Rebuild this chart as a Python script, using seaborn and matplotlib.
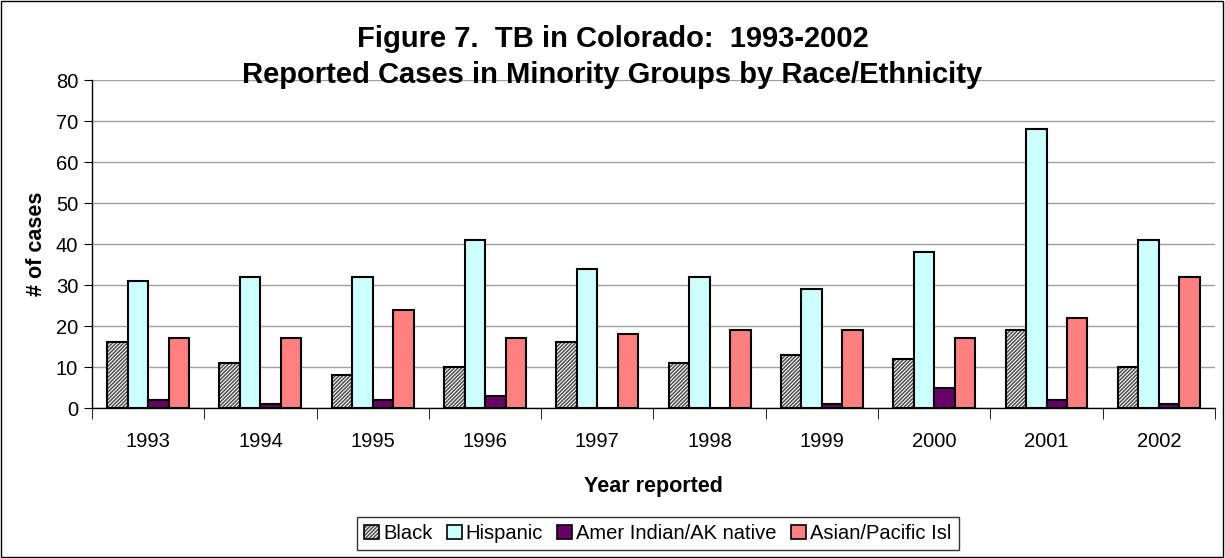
import pandas as pd
import matplotlib.pyplot as plt
import seaborn as sns
from matplotlib.patches import Rectangle

years = ['1993', '1994', '1995', '1996', '1997', '1998', '1999', '2000', '2001', '2002']
groups = ['Black', 'Hispanic', 'Amer Indian/AK native', 'Asian/Pacific Isl']
black = [16, 11, 8, 10, 16, 11, 13, 12, 19, 10]
hispanic = [31, 32, 32, 41, 34, 32, 29, 38, 68, 41]
amer_indian = [2, 1, 2, 3, 0, 0, 1, 5, 2, 1]
asian = [17, 17, 24, 17, 18, 19, 19, 17, 22, 32]
colors = ['#ffffff', '#ccffff', '#660066', '#ff8080']

# long-format table for seaborn
rows = []
for name, vals in zip(groups, [black, hispanic, amer_indian, asian]):
    for y, v in zip(years, vals):
        rows.append({'Year': y, 'Group': name, 'Cases': v})
df = pd.DataFrame(rows)

sns.set_style('white')
plt.rcParams['font.family'] = ['Liberation Sans', 'DejaVu Sans']
plt.rcParams['text.color'] = 'black'
plt.rcParams['axes.labelcolor'] = 'black'
plt.rcParams['xtick.color'] = 'black'
plt.rcParams['ytick.color'] = 'black'
plt.rcParams['hatch.linewidth'] = 1.1

fig = plt.figure(figsize=(12.25, 5.58), dpi=100)
ax = fig.add_axes([0.0751, 0.2688, 0.9167, 0.5878])

sns.barplot(data=df, x='Year', y='Cases', hue='Group', hue_order=groups,
            palette=colors, width=0.73, gap=0, edgecolor='black',
            linewidth=1.5, saturation=1, legend=False, ax=ax, zorder=3)

# dense grey hatch for the Black series
HATCH = '/////////'
HATCH_COLOR = (0.3, 0.3, 0.3, 1)
for bar in ax.containers[0]:
    bar.set_hatch(HATCH)
    bar._hatch_color = HATCH_COLOR

ax.set_ylim(0, 80)
ax.set_yticks(range(0, 81, 10))
ax.set_xlim(-0.5, len(years) - 0.5)
ax.yaxis.grid(True, color='#a0a0a0', linewidth=1, zorder=0)
ax.set_axisbelow(True)
for side in ['top', 'right']:
    ax.spines[side].set_visible(False)
for side in ['left', 'bottom']:
    ax.spines[side].set_color('black')
    ax.spines[side].set_linewidth(1)

ax.tick_params(axis='y', which='major', left=True, length=6, color='black',
               labelsize=14.5, pad=4)
ax.tick_params(axis='x', which='major', bottom=False, labelsize=14.5, pad=14)
ax.set_xticks([i + 0.5 for i in range(-1, len(years))], minor=True)
ax.tick_params(axis='x', which='minor', bottom=True, length=8, color='black')

ax.set_xlabel('Year reported', fontsize=15.5, fontweight='bold', labelpad=18)
ax.set_ylabel('# of cases', fontsize=15.5, fontweight='bold', labelpad=6)

fig.suptitle('Figure 7.  TB in Colorado:  1993-2002\nReported Cases in Minority Groups by Race/Ethnicity',
             fontsize=21, fontweight='bold', y=0.955, linespacing=1.38)

handles = [Rectangle((0, 0), 1, 1, facecolor=c, edgecolor='black', linewidth=1.2)
           for c in colors]
handles[0].set_hatch(HATCH)
handles[0]._hatch_color = HATCH_COLOR
leg = fig.legend(handles, groups, loc='center', bbox_to_anchor=(0.537, 0.044),
                 ncol=4, fontsize=14.5, frameon=True, fancybox=False,
                 handlelength=0.75, handleheight=0.75, handletextpad=0.2,
                 columnspacing=0.7, borderpad=0.35)
leg.get_frame().set_edgecolor('black')
leg.get_frame().set_linewidth(1)

fig.add_artist(Rectangle((0.001, 0.002), 0.997, 0.996, transform=fig.transFigure,
                         fill=False, edgecolor='black', linewidth=1))

fig.savefig('out.png', dpi=100)
